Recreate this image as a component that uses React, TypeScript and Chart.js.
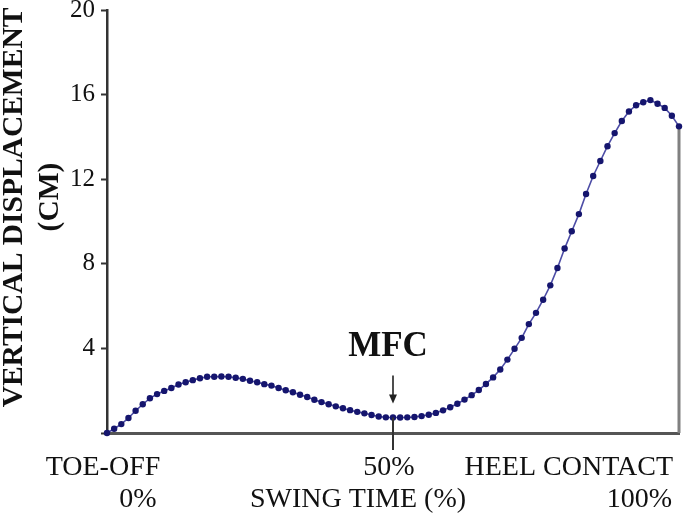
import React, { useEffect, useRef } from 'react';
import { Chart, registerables } from 'chart.js';

Chart.register(...registerables);

// Swing time (% of swing) sampling grid
const swingTime: number[] = [
  0, 1.25, 2.5, 3.75, 5, 6.25, 7.5, 8.75, 10, 11.25,
  12.5, 13.75, 15, 16.25, 17.5, 18.75, 20, 21.25, 22.5, 23.75,
  25, 26.25, 27.5, 28.75, 30, 31.25, 32.5, 33.75, 35, 36.25,
  37.5, 38.75, 40, 41.25, 42.5, 43.75, 45, 46.25, 47.5, 48.75,
  50, 51.25, 52.5, 53.75, 55, 56.25, 57.5, 58.75, 60, 61.25,
  62.5, 63.75, 65, 66.25, 67.5, 68.75, 70, 71.25, 72.5, 73.75,
  75, 76.25, 77.5, 78.75, 80, 81.25, 82.5, 83.75, 85, 86.25,
  87.5, 88.75, 90, 91.25, 92.5, 93.75, 95, 96.25, 97.5, 98.75,
  100,
];

// Vertical displacement of the toe (cm)
const displacement: number[] = [
  0.0, 0.2, 0.42, 0.71, 1.05, 1.36, 1.64, 1.84, 1.99, 2.13,
  2.29, 2.4, 2.5, 2.59, 2.66, 2.66, 2.67, 2.66, 2.61, 2.56,
  2.47, 2.4, 2.31, 2.24, 2.13, 2.02, 1.93, 1.81, 1.7, 1.57,
  1.46, 1.36, 1.26, 1.17, 1.08, 1.0, 0.93, 0.85, 0.78, 0.74,
  0.73, 0.73, 0.74, 0.76, 0.8, 0.86, 0.95, 1.07, 1.22, 1.38,
  1.58, 1.79, 2.03, 2.32, 2.63, 3.0, 3.47, 3.98, 4.5, 5.15,
  5.68, 6.3, 6.98, 7.8, 8.72, 9.54, 10.35, 11.3, 12.15, 12.86,
  13.56, 14.18, 14.75, 15.2, 15.5, 15.64, 15.74, 15.57, 15.37, 15.0,
  14.5,
];

const yTicks: number[] = [0, 4, 8, 12, 16, 20];
const xTickValues: number[] = [0, 50, 100];
const xTickLines: string[][] = [['TOE-OFF', '0%'], ['50%'], ['HEEL CONTACT', '100%']];
const xTitle = 'SWING TIME (%)';
const yTitleLines: string[] = ['VERTICAL DISPLACEMENT', '(CM)'];
const mfcLabel = 'MFC';
const mfcTime = 50;

const SERIF = '"Liberation Serif", "Times New Roman", serif';

const annotatePlugin = {
  id: 'annotate',
  afterDraw(chart: any) {
    const { ctx, chartArea, scales } = chart;
    const x = scales.x;
    const y = scales.y;
    ctx.save();

    // MFC vertical marker (from curve point down through axis tick)
    const mIdx = swingTime.indexOf(mfcTime);
    const xm = x.getPixelForValue(mfcTime);
    const ym = y.getPixelForValue(displacement[mIdx]);
    ctx.strokeStyle = '#333';
    ctx.lineWidth = 2;
    ctx.beginPath();
    ctx.moveTo(xm, ym);
    ctx.lineTo(xm, chartArea.bottom + 17);
    ctx.stroke();

    // Arrow pointing to MFC
    const tipY = ym - 14;
    ctx.strokeStyle = '#222';
    ctx.lineWidth = 1.6;
    ctx.beginPath();
    ctx.moveTo(xm, ym - 42);
    ctx.lineTo(xm, tipY - 6);
    ctx.stroke();
    ctx.fillStyle = '#222';
    ctx.beginPath();
    ctx.moveTo(xm, tipY);
    ctx.lineTo(xm - 4, tipY - 9);
    ctx.lineTo(xm + 4, tipY - 9);
    ctx.closePath();
    ctx.fill();

    // MFC label
    ctx.fillStyle = '#111';
    ctx.font = `bold 35px ${SERIF}`;
    ctx.textAlign = 'center';
    ctx.textBaseline = 'middle';
    ctx.fillText(mfcLabel, xm - 5, ym - 71);

    // X tick labels
    ctx.font = `28px ${SERIF}`;
    const line1 = chartArea.bottom + 35;
    const line2 = chartArea.bottom + 67;
    xTickValues.forEach((v, i) => {
      const px = x.getPixelForValue(v);
      const lines = xTickLines[i];
      if (i === 0) {
        ctx.textAlign = 'center';
        ctx.fillText(lines[0], px - 4, line1);
        ctx.fillText(lines[1], px + 31, line2);
      } else if (i === xTickValues.length - 1) {
        ctx.textAlign = 'right';
        ctx.fillText(lines[0], px - 6, line1);
        ctx.fillText(lines[1], px - 7, line2);
      } else {
        ctx.textAlign = 'center';
        ctx.fillText(lines[0], px - 4, line1);
      }
    });

    // X axis title
    ctx.textAlign = 'center';
    ctx.fillText(xTitle, chartArea.left + 251, line2);

    // Y axis title (rotated)
    ctx.font = `bold 29.5px ${SERIF}`;
    ctx.save();
    ctx.translate(14, 207.5);
    ctx.rotate(-Math.PI / 2);
    ctx.fillText(yTitleLines[0], 0, 0);
    ctx.restore();
    ctx.save();
    ctx.translate(50, 197);
    ctx.rotate(-Math.PI / 2);
    ctx.fillText(yTitleLines[1], 0, 0);
    ctx.restore();

    ctx.restore();
  },
};

export default function App() {
  const canvasRef = useRef<HTMLCanvasElement | null>(null);

  useEffect(() => {
    if (!canvasRef.current) return;
    const points = swingTime.map((t, i) => ({ x: t, y: displacement[i] }));
    const last = swingTime.length - 1;
    const chart = new Chart(canvasRef.current, {
      type: 'line',
      data: {
        datasets: [
          {
            data: points,
            borderColor: '#4d4da6',
            borderWidth: 1.6,
            pointRadius: 3.2,
            pointBackgroundColor: '#15156e',
            pointBorderWidth: 0,
            tension: 0,
            clip: false,
            order: 1,
          },
          {
            data: [
              { x: swingTime[last], y: displacement[last] },
              { x: swingTime[last], y: 0 },
            ],
            borderColor: '#808080',
            borderWidth: 3,
            pointRadius: 0,
            clip: false,
            order: 2,
          },
        ],
      },
      options: {
        animation: false,
        responsive: false,
        maintainAspectRatio: false,
        layout: { padding: { top: 10, right: 6, left: 0, bottom: 0 } },
        plugins: {
          legend: { display: false },
          tooltip: { enabled: false },
        },
        scales: {
          x: {
            type: 'linear',
            min: 0,
            max: 100,
            afterBuildTicks: (scale: any) => {
              scale.ticks = xTickValues.map((v) => ({ value: v }));
            },
            afterFit: (scale: any) => {
              scale.height = 89;
              scale.paddingLeft = 0;
              scale.paddingRight = 0;
            },
            ticks: { display: false },
            grid: {
              display: false,
            },
            border: { color: '#555', width: 3 },
          },
          y: {
            type: 'linear',
            min: 0,
            max: 20,
            afterBuildTicks: (scale: any) => {
              scale.ticks = yTicks.map((v) => ({ value: v }));
            },
            afterFit: (scale: any) => {
              scale.width = 107;
              scale.paddingTop = 0;
              scale.paddingBottom = 0;
            },
            ticks: {
              padding: 6,
              color: '#111',
              font: { family: SERIF, size: 25 },
              callback: (v: any) => (v === 0 ? '' : String(v)),
            },
            grid: {
              drawOnChartArea: false,
              drawTicks: true,
              tickLength: 6,
              tickWidth: 2,
              tickColor: '#333',
            },
            border: { color: '#333', width: 2.5 },
          },
        },
      },
      plugins: [annotatePlugin],
    });
    return () => chart.destroy();
  }, []);

  return (
    <div style={{ position: 'absolute', left: 0, top: 0, width: 685, height: 522, background: '#fff' }}>
      <canvas ref={canvasRef} width={685} height={522} style={{ width: 685, height: 522, display: 'block' }} />
    </div>
  );
}
